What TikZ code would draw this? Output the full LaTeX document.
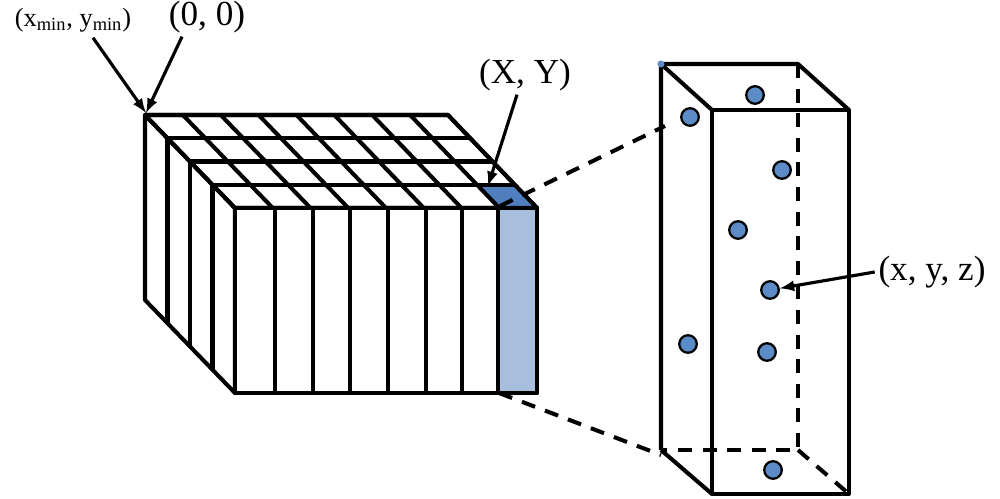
\documentclass[tikz,border=0pt]{standalone}
\usepackage{fontspec}
\setmainfont{Liberation Serif}
\definecolor{topblue}{HTML}{4F7FBF}
\definecolor{sideblue}{HTML}{A7BFDD}
\definecolor{dotblue}{HTML}{5B8CC8}
\begin{document}
\begin{tikzpicture}[x=0.02cm,y=-0.02cm,line width=2.3pt,line join=round,
  lbl/.style={font=\fontsize{20}{22}\selectfont,inner sep=1pt},
  slbl/.style={font=\fontsize{15}{17}\selectfont,inner sep=1pt},
  dot/.style={circle,draw,fill=dotblue,minimum size=10pt,inner sep=0pt,line width=1.3pt},
  ptr/.style={-latex,line width=1.8pt},
  dsh/.style={dashed,dash pattern=on 8pt off 6pt}]
\useasboundingbox (0,0) rectangle (1000,499);
\def\dx{22.5}\def\dy{23.25}
% left face
\draw[fill=white] (145,115) -- (235,208) -- (235,393) -- (145,300) -- cycle;
\foreach \k in {1,2,3}{\draw (145+\k*\dx,115+\k*\dy) -- (145+\k*\dx,300+\k*\dy);}
% top face
\draw[fill=white] (145,115) -- (448,115) -- (537,208) -- (235,208) -- cycle;
\fill[topblue] (498,208) -- (537,208) -- (514.75,184.75) -- (475.75,184.75) -- cycle;
\foreach \k in {1,2,3}{\draw (145+\k*\dx,115+\k*\dy) -- (448+\k*\dx,115+\k*\dy);}
\foreach \i in {1,...,7}{\draw (145+\i*37.875,115) -- (235+\i*37.75,208);}
\draw (145,115) -- (448,115) -- (537,208) -- (235,208) -- cycle;
% front face
\draw[fill=white] (235,208) rectangle (537,393);
\fill[sideblue] (498,208) rectangle (537,393);
\foreach \x in {275,313,350,388,426,462,498}{\draw (\x,208) -- (\x,393);}
\draw (235,208) rectangle (537,393);
% right box
\coordinate (b1) at (661,64); \coordinate (b2) at (798,64);
\coordinate (b3) at (798,450); \coordinate (b4) at (661,450);
\coordinate (f1) at (712,110); \coordinate (f2) at (849,110);
\coordinate (f3) at (849,494); \coordinate (f4) at (712,494);
\draw[dsh] (b2) -- (b3) -- (b4);
\draw[dsh] (b3) -- (f3);
\draw (b4) -- (b1) -- (b2) -- (f2);
\draw (b1) -- (f1);
\draw (b4) -- (f4);
\draw (f1) rectangle (f3);
% dashed projections
\coordinate (pa) at (500,206); \coordinate (pb) at (499,393);
\draw[dsh] (pa) -- (665,126);
\draw[dsh] (pb) -- (661,455);
% dots
\fill[dotblue] (b1) circle (3.5);
\foreach \p/\n in {{755,95}/d1,{690,117}/d2,{782,170}/d3,{738,230}/d4,{770,290}/d5,{688,344}/d6,{767,352}/d7,{773,470}/d8}
  \node[dot] (\n) at (\p) {};
% labels
\node[slbl] (lmin) at (73,20) {(x\textsubscript{min}, y\textsubscript{min})};
\node[lbl] (l00) at (207,17) {(0, 0)};
\node[lbl] (lXY) at (525,75) {(X, Y)};
\node[lbl] (lxyz) at (932,272) {(x, y, z)};
\coordinate (c0) at (146,113);
\coordinate (cXY) at (488,186);
\draw[ptr] (lmin.south) ++(20,2) -- (c0);
\draw[ptr] (l00.south) ++(-25,0) -- (c0);
\draw[ptr] (lXY.south) ++(-8,0) -- (cXY);
\draw[ptr] (lxyz.west) -- (d5);
\end{tikzpicture}
\end{document}
